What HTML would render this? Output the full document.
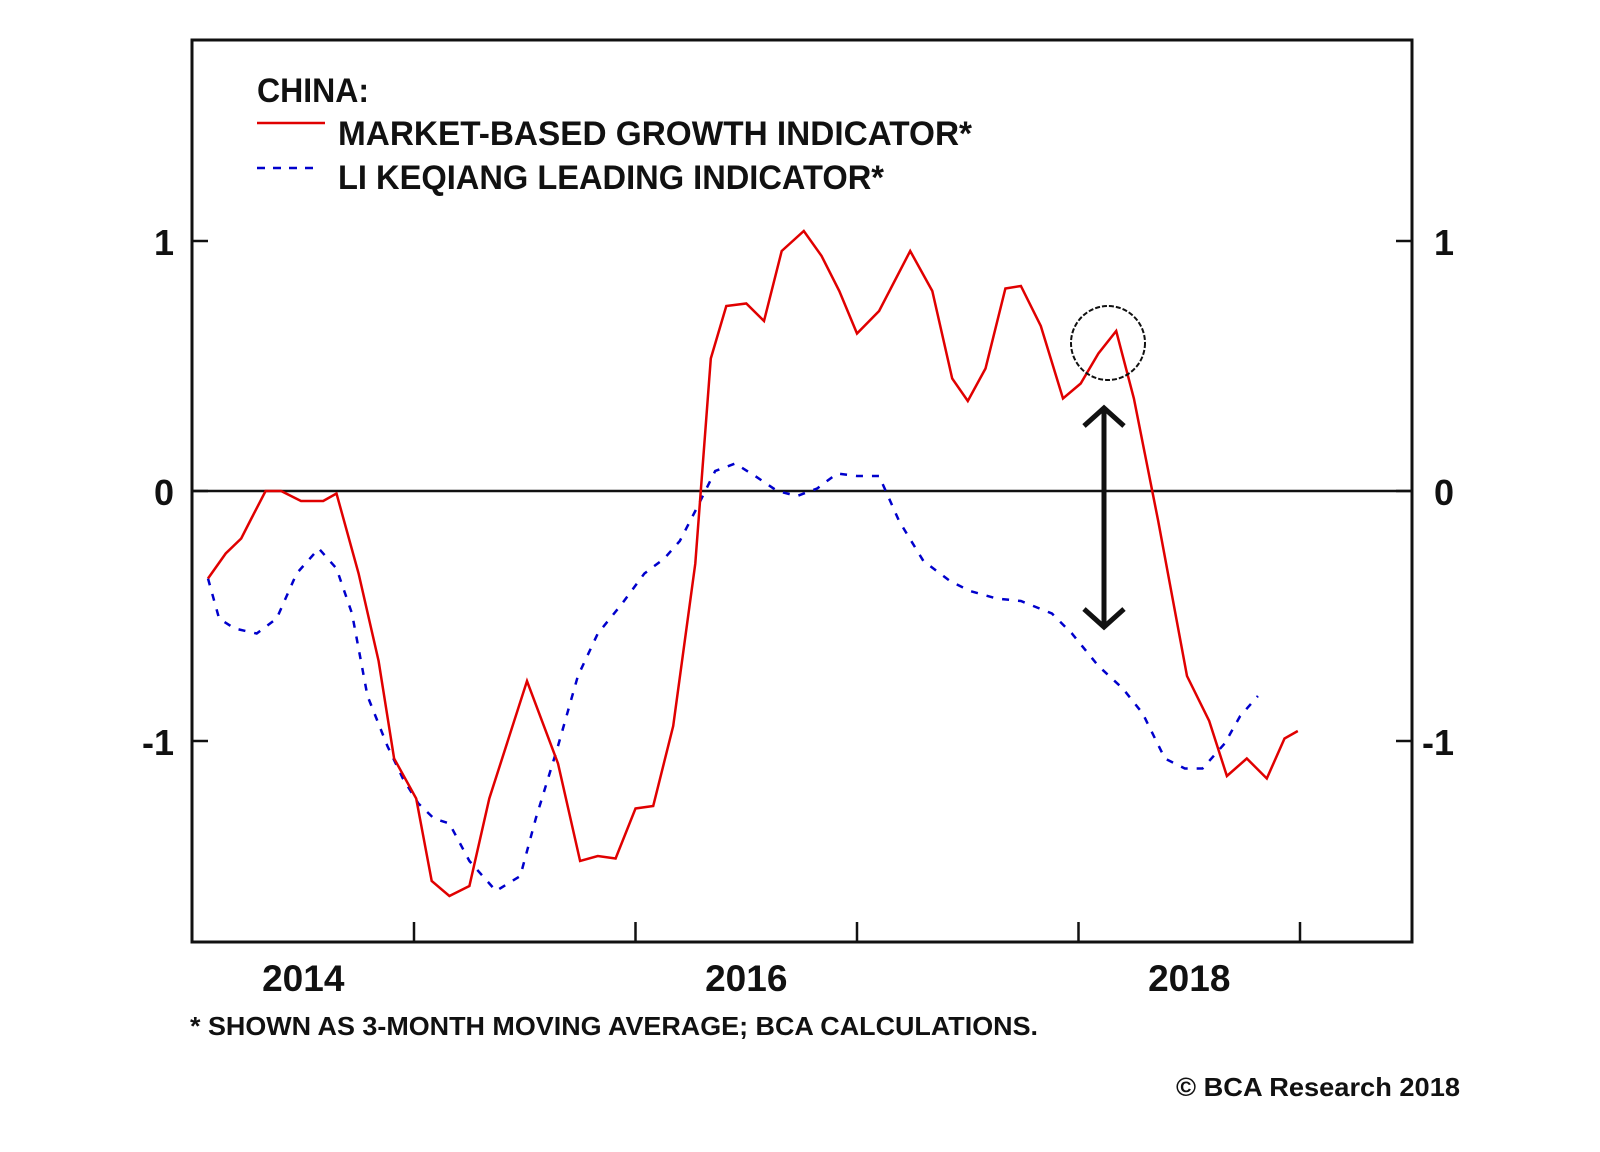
<!DOCTYPE html>
<html><head><meta charset="utf-8">
<style>
html,body{margin:0;padding:0;background:#fff;}
svg{display:block;font-family:"Liberation Sans",Arial,sans-serif;font-weight:bold;}
</style></head>
<body>
<svg id="chart" width="1600" height="1152" viewBox="0 0 1600 1152" xmlns="http://www.w3.org/2000/svg">
<rect x="0" y="0" width="1600" height="1152" fill="#fff"/>
<g id="axes"></g>
<g id="series"></g>
<g>
<text x="257" y="102" font-size="34" fill="#111" textLength="112" lengthAdjust="spacingAndGlyphs">CHINA:</text>
<line x1="257" y1="123" x2="325" y2="123" stroke="#e00000" stroke-width="2.5"/>
<text x="338" y="145" font-size="34" fill="#111" textLength="634" lengthAdjust="spacingAndGlyphs">MARKET-BASED GROWTH INDICATOR*</text>
<line x1="257" y1="168" x2="321" y2="168" stroke="#0000cc" stroke-width="2.5" stroke-dasharray="8,8"/>
<text x="338" y="189" font-size="34" fill="#111" textLength="546" lengthAdjust="spacingAndGlyphs">LI KEQIANG LEADING INDICATOR*</text>
</g>
<g>
<circle cx="1108" cy="343" r="37" fill="none" stroke="#111" stroke-width="2" stroke-dasharray="5,2"/>
<line x1="1104" y1="410" x2="1104" y2="626" stroke="#111" stroke-width="5"/>
<polyline points="1084,426 1104,408 1124,426" fill="none" stroke="#111" stroke-width="5"/>
<polyline points="1084,609 1104,627 1124,609" fill="none" stroke="#111" stroke-width="5"/>
</g>
<text x="190" y="1035" font-size="26" fill="#111" textLength="848" lengthAdjust="spacingAndGlyphs">* SHOWN AS 3-MONTH MOVING AVERAGE; BCA CALCULATIONS.</text>
<text x="1176" y="1096" font-size="26" fill="#111" textLength="284" lengthAdjust="spacingAndGlyphs">© BCA Research 2018</text>
</svg>
<script>
const redDates=[2014.07,2014.15,2014.22,2014.26,2014.33,2014.40,2014.49,2014.59,2014.65,2014.75,2014.84,2014.91,2015.01,2015.08,2015.16,2015.25,2015.34,2015.51,2015.65,2015.75,2015.83,2015.91,2016.00,2016.08,2016.17,2016.27,2016.34,2016.41,2016.50,2016.58,2016.66,2016.76,2016.84,2016.92,2017.00,2017.10,2017.24,2017.34,2017.43,2017.50,2017.58,2017.67,2017.74,2017.83,2017.93,2018.01,2018.09,2018.17,2018.25,2018.36,2018.49,2018.59,2018.67,2018.76,2018.85,2018.93,2018.99];
const redValues=[-0.35,-0.25,-0.19,-0.12,0,0,-0.04,-0.04,-0.01,-0.33,-0.68,-1.07,-1.23,-1.56,-1.62,-1.58,-1.23,-0.76,-1.09,-1.48,-1.46,-1.47,-1.27,-1.26,-0.94,-0.29,0.53,0.74,0.75,0.68,0.96,1.04,0.94,0.80,0.63,0.72,0.96,0.80,0.45,0.36,0.49,0.81,0.82,0.66,0.37,0.43,0.55,0.64,0.37,-0.12,-0.74,-0.92,-1.14,-1.07,-1.15,-0.99,-0.96];
const blueDates=[2014.07,2014.12,2014.19,2014.29,2014.38,2014.47,2014.57,2014.65,2014.72,2014.79,2014.88,2014.95,2015.02,2015.09,2015.16,2015.25,2015.37,2015.48,2015.55,2015.65,2015.74,2015.83,2015.94,2016.04,2016.13,2016.20,2016.27,2016.36,2016.45,2016.54,2016.64,2016.73,2016.82,2016.91,2017.00,2017.10,2017.19,2017.30,2017.42,2017.51,2017.63,2017.74,2017.88,2017.97,2018.09,2018.20,2018.29,2018.39,2018.48,2018.56,2018.66,2018.73,2018.81];
const blueValues=[-0.35,-0.51,-0.55,-0.57,-0.51,-0.33,-0.23,-0.31,-0.49,-0.82,-1.02,-1.15,-1.25,-1.31,-1.33,-1.48,-1.60,-1.54,-1.31,-1.02,-0.74,-0.57,-0.45,-0.33,-0.27,-0.20,-0.08,0.08,0.11,0.06,0,-0.02,0.01,0.07,0.06,0.06,-0.12,-0.28,-0.36,-0.40,-0.43,-0.44,-0.49,-0.57,-0.70,-0.79,-0.89,-1.07,-1.11,-1.11,-1.01,-0.90,-0.82];
const yTicks=[1,0,-1];
const yTickLabels=["1","0","-1"];
const xTicks=[2015,2016,2017,2018,2019];
const xLabelYears=[2014,2016,2018];
const xLabels=["2014","2016","2018"];

const NS="http://www.w3.org/2000/svg";
const L=192,R=1412,T=40,B=942;
function xs(t){return 414+(t-2015)*221.5;}
function ys(v){return 491-v*250;}
function mk(tag,attrs,parent){const e=document.createElementNS(NS,tag);for(const k in attrs)e.setAttribute(k,attrs[k]);parent.appendChild(e);return e;}
const axes=document.getElementById('axes'),series=document.getElementById('series');
let e=mk('rect',{x:L,y:T,width:R-L,height:B-T,fill:'none',stroke:'#111','stroke-width':3},axes);


e=mk('line',{x1:L,y1:ys(0),x2:R,y2:ys(0),stroke:'#111','stroke-width':2.5},axes);


yTicks.forEach((v,i)=>{
  let t=mk('line',{x1:L,y1:ys(v),x2:L+16,y2:ys(v),stroke:'#111','stroke-width':2.5},axes);
  
  
  t=mk('line',{x1:R-16,y1:ys(v),x2:R,y2:ys(v),stroke:'#111','stroke-width':2.5},axes);
  
  
  let tx=mk('text',{x:L-18,y:ys(v)+14,'font-size':36,'text-anchor':'end',fill:'#111'},axes);tx.textContent=yTickLabels[i];
  
  
  tx=mk('text',{x:R+42,y:ys(v)+14,'font-size':36,'text-anchor':'end',fill:'#111'},axes);tx.textContent=yTickLabels[i];
  
  
});
xTicks.forEach(y=>{
  const t=mk('line',{x1:xs(y),y1:B-20,x2:xs(y),y2:B,stroke:'#111','stroke-width':2.5},axes);
  
  
});
xLabelYears.forEach((y,i)=>{
  const tx=mk('text',{x:xs(y+0.5),y:991,'font-size':37,'text-anchor':'middle',fill:'#111'},axes);tx.textContent=xLabels[i];
  
  
});
function pts(d,v){return d.map((t,i)=>xs(t).toFixed(1)+','+ys(v[i]).toFixed(1)).join(' ');}
let p=mk('polyline',{points:pts(blueDates,blueValues),fill:'none',stroke:'#0000cc','stroke-width':2.5,'stroke-dasharray':'7,9'},series);


p=mk('polyline',{points:pts(redDates,redValues),fill:'none',stroke:'#e00000','stroke-width':2.5,'stroke-linejoin':'miter'},series);


</script>
</body></html>
